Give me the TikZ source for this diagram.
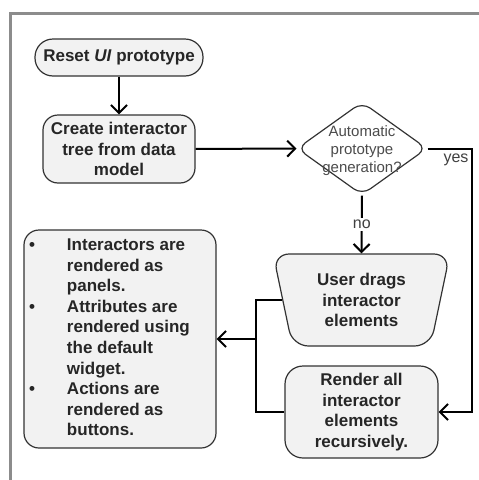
\documentclass[tikz,border=0pt]{standalone}
\usepackage{fontspec}
\setmainfont{Liberation Sans}
\usetikzlibrary{shapes.geometric,arrows.meta,positioning}
\definecolor{boxfill}{HTML}{F2F2F2}
\definecolor{framegray}{HTML}{8C8C8C}
\definecolor{edgegray}{HTML}{333333}

\tikzset{
  process/.style={draw=edgegray, line width=1.2pt, fill=boxfill, rounded corners=15pt,
    align=center, inner sep=0pt, text=black!85,
    font=\fontsize{17}{20.6}\selectfont\bfseries},
  decision/.style={diamond, draw=edgegray, line width=1.2pt, fill=white, rounded corners=10pt,
    minimum width=130pt, minimum height=93pt, inner sep=0pt, text=black!70,
    font=\fontsize{15}{18}\selectfont},
  answer/.style={font=\fontsize{16}{18}\selectfont, text=black!75},
  line/.style={line width=2pt},
  flow/.style={line width=2pt, -{Straight Barb[length=8pt,width=16pt]}}
}

\begin{document}
\begin{tikzpicture}[x=1pt, y=-1pt]
\useasboundingbox (0,0) rectangle (479,480);

%frame
\draw[framegray, line width=3pt] (10,482) -- (10,13) -- (481,13);

%steps
\node[process, rounded corners=18pt, minimum width=168pt, minimum height=37pt] (reset) at (119,57.5) {Reset \textit{UI} prototype};
\node[process, minimum width=152pt, minimum height=68pt] (create) at (119,149) {Create interactor\\tree from data\\model};
\node[decision] (decide) at (362,148.5) {\smash{\raisebox{-6pt}{\makebox[0pt]{\begin{tabular}{c}Automatic\\prototype\\generation?\end{tabular}}}}};
\node[process, trapezium, trapezium stretches=true, shape border rotate=180,
  trapezium left angle=77, trapezium right angle=77,
  minimum width=177pt, minimum height=92pt, rounded corners=16pt] (drag) at (361.5,300) {User drags\\interactor\\elements};
\node[process, rounded corners=18pt, minimum width=153pt, minimum height=92pt] (render) at (361.5,412) {Render all\\interactor\\elements\\recursively.};

%rendering rules
\node[process, minimum width=192pt, minimum height=218pt, inner xsep=5pt] (rules) at (120,339) {%
\begin{tabular}{@{}p{38pt}@{}p{144pt}@{}}
\textbullet & Interactors are\newline rendered as\newline panels.\\
\textbullet & Attributes are\newline rendered using\newline the default\newline widget.\\
\textbullet & Actions are\newline rendered as\newline buttons.
\end{tabular}};

%connectors
\draw[flow] (reset) -- (create);
\draw[flow] (create) -- (decide);
\coordinate (yesbend) at (472,148.5);
\draw[flow] (decide.east) -- (yesbend) |- (render.east);
\node[answer] (yeslabel) at (456,160) {yes};
\draw[flow] (decide.south) -- node[answer, fill=white, inner sep=2pt] (nolabel) {no} (drag.north);

\coordinate (join) at (256,339);
\draw[line] (drag.west) -| (join) |- (render.west);
\draw[flow] (join) -- (rules.east);
\end{tikzpicture}
\end{document}
